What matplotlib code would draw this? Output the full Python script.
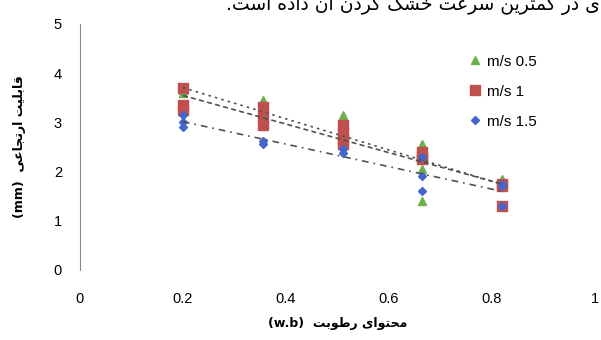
import numpy as np
import matplotlib
matplotlib.use("Agg")
import matplotlib.pyplot as plt

plt.rcParams["font.family"] = ["Liberation Sans", "DejaVu Sans"]

# moisture content columns (w.b)
x_levels = [0.2, 0.355, 0.51, 0.665, 0.82]

# air velocity 0.5 m/s
x_05 = [0.2, 0.2, 0.2, 0.355, 0.355, 0.355, 0.51, 0.51, 0.51,
        0.665, 0.665, 0.665, 0.665, 0.82, 0.82, 0.82]
y_05 = [3.7, 3.65, 3.6, 3.45, 3.25, 3.1, 3.15, 2.75, 2.6,
        2.55, 2.4, 2.05, 1.4, 1.85, 1.8, 1.75]
# air velocity 1 m/s
x_1 = [0.2, 0.2, 0.2, 0.355, 0.355, 0.355, 0.51, 0.51, 0.51, 0.51,
       0.665, 0.665, 0.665, 0.82, 0.82, 0.82]
y_1 = [3.7, 3.35, 3.25, 3.3, 3.1, 2.95, 2.95, 2.8, 2.65, 2.55,
       2.4, 2.3, 2.25, 1.75, 1.7, 1.3]
# air velocity 1.5 m/s
x_15 = [0.2, 0.2, 0.2, 0.355, 0.355, 0.51, 0.51,
        0.665, 0.665, 0.665, 0.82, 0.82, 0.82]
y_15 = [3.15, 3.0, 2.9, 2.62, 2.55, 2.45, 2.38,
        2.3, 1.9, 1.6, 1.75, 1.7, 1.3]

labels = ["m/s 0.5", "m/s 1", "m/s 1.5"]

# simple persian shaping: (isolated, final, initial, medial)
FORMS = {
    "ا": ("\ufe8d", "\ufe8e"), "آ": ("\ufe81", "\ufe82"),
    "ب": ("\ufe8f", "\ufe90", "\ufe91", "\ufe92"),
    "ت": ("\ufe95", "\ufe96", "\ufe97", "\ufe98"),
    "ج": ("\ufe9d", "\ufe9e", "\ufe9f", "\ufea0"),
    "ح": ("\ufea1", "\ufea2", "\ufea3", "\ufea4"),
    "خ": ("\ufea5", "\ufea6", "\ufea7", "\ufea8"),
    "د": ("\ufea9", "\ufeaa"), "ر": ("\ufead", "\ufeae"),
    "س": ("\ufeb1", "\ufeb2", "\ufeb3", "\ufeb4"),
    "ش": ("\ufeb5", "\ufeb6", "\ufeb7", "\ufeb8"),
    "ط": ("\ufec1", "\ufec2", "\ufec3", "\ufec4"),
    "ع": ("\ufec9", "\ufeca", "\ufecb", "\ufecc"),
    "ق": ("\ufed5", "\ufed6", "\ufed7", "\ufed8"),
    "ک": ("\ufb8e", "\ufb8f", "\ufb90", "\ufb91"),
    "ل": ("\ufedd", "\ufede", "\ufedf", "\ufee0"),
    "م": ("\ufee1", "\ufee2", "\ufee3", "\ufee4"),
    "ن": ("\ufee5", "\ufee6", "\ufee7", "\ufee8"),
    "ه": ("\ufee9", "\ufeea", "\ufeeb", "\ufeec"),
    "و": ("\ufeed", "\ufeee"),
    "ی": ("\ufbfc", "\ufbfd", "\ufbfe", "\ufbff"),
}


def fa(text):
    out = []
    for i, ch in enumerate(text):
        f = FORMS.get(ch)
        if f is None:
            out.append(ch)
            continue
        prev = text[i - 1] if i > 0 else ""
        nxt = text[i + 1] if i + 1 < len(text) else ""
        joins_prev = prev in FORMS and len(FORMS[prev]) == 4
        joins_next = len(f) == 4 and nxt in FORMS
        out.append(f[(1 if joins_prev else 0) + (2 if joins_next else 0)])
    return "".join(reversed(out))


fig = plt.figure(figsize=(6.01, 3.4), dpi=100)
ax = fig.add_axes([0.133, 0.206, 0.857, 0.724])

green, red, blue = "#6ab04c", "#c0504d", "#4466cc"
ax.plot(x_05, y_05, "^", color=green, ms=6, label=labels[0], zorder=3)
ax.plot(x_1, y_1, "s", color=red, ms=6.5, label=labels[1], zorder=4)
ax.plot(x_15, y_15, "D", color=blue, ms=4.5, label=labels[2], zorder=5)

xs = np.array([min(x_levels), max(x_levels)])
for xv, yv, ls in [(x_05, y_05, (0, (1.5, 2.5))), (x_1, y_1, (0, (3, 2))),
                   (x_15, y_15, (0, (4, 3, 1, 3)))]:
    k, b = np.polyfit(xv, yv, 1)
    ax.plot(xs, k * xs + b, color="#505050", lw=1.2, ls=ls, zorder=6)

ax.set_xlim(0, 1)
ax.set_ylim(0, 5)
ax.set_xticks([0, 0.2, 0.4, 0.6, 0.8, 1])
ax.set_xticklabels(["0", "0.2", "0.4", "0.6", "0.8", "1"])
ax.set_yticks([0, 1, 2, 3, 4, 5])
for s in ["top", "right", "bottom"]:
    ax.spines[s].set_visible(False)
ax.spines["left"].set_color("#888888")
ax.tick_params(axis="x", length=0, pad=16, labelsize=10.5)
ax.tick_params(axis="y", length=0, pad=13, labelsize=10.5)

ax.legend(loc="upper left", bbox_to_anchor=(0.74, 0.90), frameon=False,
          fontsize=11, handletextpad=0.3, labelspacing=1.05, handlelength=1,
          borderaxespad=0)

ax.set_xlabel("(w.b)  " + fa("محتوای رطوبت"), family="DejaVu Sans",
              fontweight="bold", fontsize=9, labelpad=8)
ax.set_ylabel("(mm)  " + fa("قابلیت ارتجاعی"), family="DejaVu Sans",
              fontweight="bold", fontsize=9, labelpad=20)

fig.text(0.998, 0.99, "." + fa("ی در کمترین سرعت خشک کردن آن داده است"),
         family="DejaVu Sans", ha="right", va="center", fontsize=13.5)

fig.savefig("out.png", dpi=100)
